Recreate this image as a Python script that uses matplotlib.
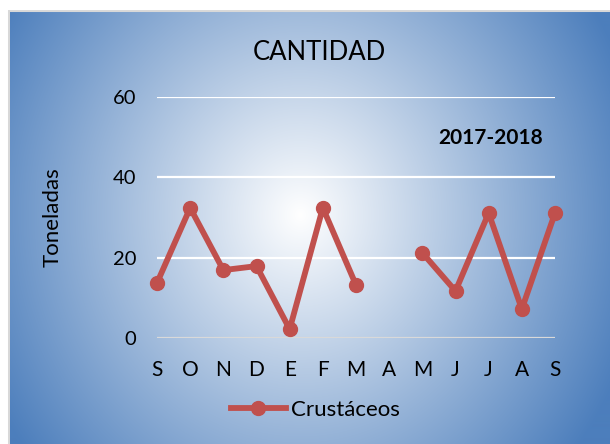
import matplotlib.pyplot as plt
import numpy as np

months = ['S', 'O', 'N', 'D', 'E', 'F', 'M', 'A', 'M', 'J', 'J', 'A', 'S']
crustaceos = [13.7, 32.4, 16.9, 17.9, 2.2, 32.4, 13.2, np.nan, 21.2, 11.7, 31.1, 7.2, 31.1]
y_ticks = [0, 20, 40, 60]

plt.rcParams['font.family'] = ['Lato', 'DejaVu Sans']

W, H = 610, 444
fig = plt.figure(figsize=(6.1, 4.44), dpi=100)
fig.patch.set_facecolor('white')

# radial gradient background (white centre, blue edges)
bg = fig.add_axes([0, 0, 1, 1], zorder=0)
yy, xx = np.mgrid[0:H, 0:W]
d = np.sqrt(((xx - 300) / 350.0) ** 2 + ((yy - 215) / 380.0) ** 2)
t = np.clip(d, 0, 1)[..., None]
edge = np.array([76, 126, 188]) / 255.0
img = (1 - t) * 1.0 + t * edge
img[:11, :] = 1.0
img[:, :8] = 1.0
img[11:13, 8:] = 0.85
img[11:, 8:10] = 0.85
bg.imshow(img, extent=[0, W, H, 0], aspect='auto', interpolation='bilinear')
bg.set_xlim(0, W)
bg.set_ylim(H, 0)
bg.axis('off')

ax = fig.add_axes([157 / W, 1 - 338 / H, (555 - 157) / W, (338 - 97) / H], zorder=1)
ax.set_facecolor('none')
x = np.arange(len(months))
ax.plot(x, crustaceos, color='#C0504D', lw=4.2, marker='o', markersize=10,
        clip_on=False, zorder=3, label='Crustáceos')

ax.set_xlim(0, len(months) - 1)
ax.set_ylim(0, 60)
ax.set_yticks(y_ticks)
ax.set_xticks(x)
ax.set_xticklabels(months)
for yv in y_ticks:
    ax.axhline(yv, color='#D9D9D9' if yv == 0 else 'white', lw=1.6, zorder=1)
for s in ax.spines.values():
    s.set_visible(False)
ax.tick_params(axis='y', length=0, pad=15, labelsize=14.5)
ax.tick_params(axis='x', length=0, pad=16, labelsize=15)

fig.text(53 / W, 1 - 217 / H, 'Toneladas', rotation=90, ha='center', va='center', fontsize=16)
fig.text(319 / W, 1 - 53 / H, 'CANTIDAD', ha='center', va='center', fontsize=18.5)
fig.text(491 / W, 1 - 138 / H, '2017-2018', ha='center', va='center', fontsize=15, fontweight='bold')

ax.legend(loc='center', bbox_to_anchor=(315 / W, 1 - 410 / H), bbox_transform=fig.transFigure,
          frameon=False, fontsize=16, handlelength=2.5, handletextpad=0.2, numpoints=1)

fig.savefig('out.png', dpi=100)
